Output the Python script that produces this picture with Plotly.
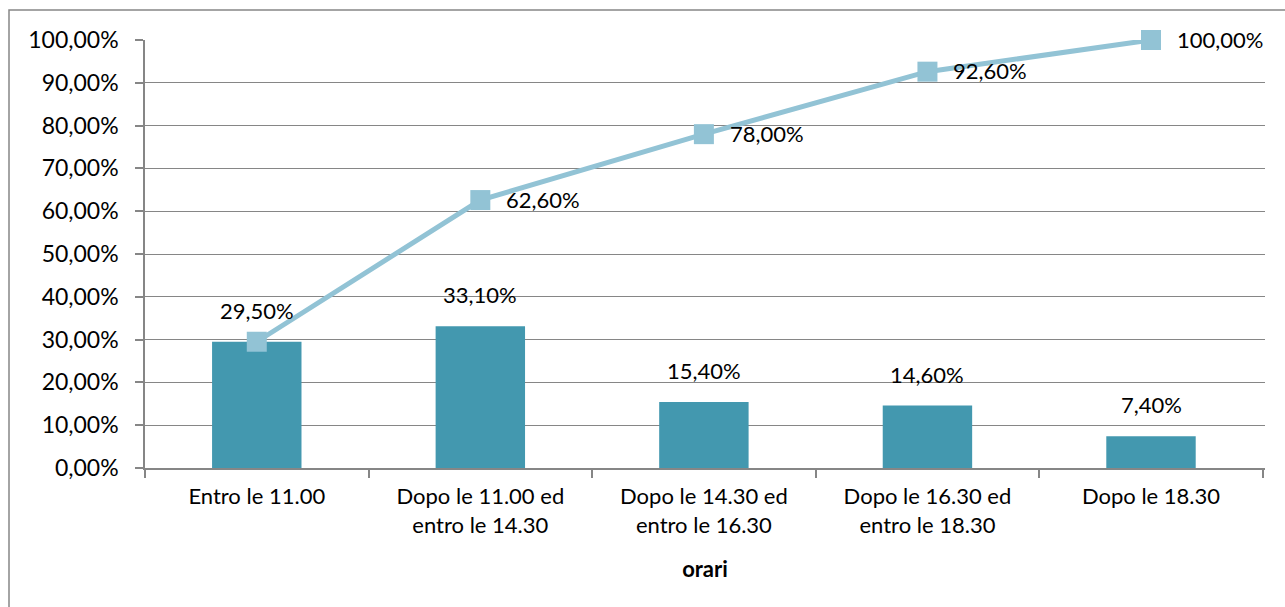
import plotly.graph_objects as go

# Fasce orarie e percentuali
categorie = ["Entro le 11.00", "Dopo le 11.00 ed<br>entro le 14.30",
             "Dopo le 14.30 ed<br>entro le 16.30", "Dopo le 16.30 ed<br>entro le 18.30",
             "Dopo le 18.30"]
percentuali = [0.295, 0.331, 0.154, 0.146, 0.074]
cumulata = [0.295, 0.626, 0.78, 0.926, 1.0]
etichette_barre = ["29,50%", "33,10%", "15,40%", "14,60%", "7,40%"]
etichette_cumulata = ["", "62,60%", "78,00%", "92,60%", "100,00%"]

FONT = "Lato"
FS = 22
GRIGIO = "#868686"

fig = go.Figure()
fig.add_trace(go.Bar(
    x=categorie, y=percentuali, marker=dict(color="#4398AF", line=dict(width=0)),
    width=0.4, showlegend=False, hoverinfo="skip",
))
fig.add_trace(go.Scatter(
    x=categorie, y=cumulata, mode="lines+markers",
    line=dict(color="#92C3D5", width=5),
    marker=dict(symbol="square", size=20, color="#92C3D5"),
    showlegend=False, hoverinfo="skip", cliponaxis=False,
))

# Etichette sopra le barre
for c, v, t in zip(categorie, percentuali, etichette_barre):
    fig.add_annotation(x=c, y=v, text=t, showarrow=False, yanchor="bottom",
                       yshift=16, font=dict(family=FONT, size=FS, color="black"))

# Etichette della cumulata, a destra dei marcatori
for c, v, t in zip(categorie, cumulata, etichette_cumulata):
    if t:
        fig.add_annotation(x=c, y=v, text=t, showarrow=False, xanchor="left",
                           xshift=24, yshift=1,
                           font=dict(family=FONT, size=FS, color="black"))

# Cornice esterna
fig.add_shape(type="rect", xref="paper", yref="paper",
              x0=(9 - 145) / 1120, x1=(1300 - 145) / 1120,
              y0=-(620 - 468) / 428, y1=1 + (40 - 10) / 428,
              line=dict(color=GRIGIO, width=1.5), layer="below")

fig.update_layout(
    width=1285, height=607,
    margin=dict(l=145, r=20, t=40, b=139),
    paper_bgcolor="white", plot_bgcolor="white",
    separators=",.",
    font=dict(family=FONT, size=FS, color="black"),
    bargap=0.6,
)
fig.update_yaxes(
    range=[0, 1], dtick=0.1, tickformat=".2%",
    showgrid=True, gridcolor=GRIGIO, gridwidth=1,
    showline=True, linecolor=GRIGIO, linewidth=1.5,
    ticks="outside", ticklen=8, tickcolor=GRIGIO, tickwidth=1.5,
    ticklabelstandoff=12,
    zeroline=False, tickfont=dict(family=FONT, size=23),
)
fig.update_xaxes(
    showline=True, linecolor=GRIGIO, linewidth=1.5,
    ticks="outside", tickson="boundaries", ticklen=8, tickcolor=GRIGIO, tickwidth=1.5,
    ticklabelstandoff=8,
    tickfont=dict(family=FONT, size=FS),
    title=dict(text="<b>orari</b>", font=dict(family=FONT, size=FS), standoff=25),
)

fig.write_html("out.html")
